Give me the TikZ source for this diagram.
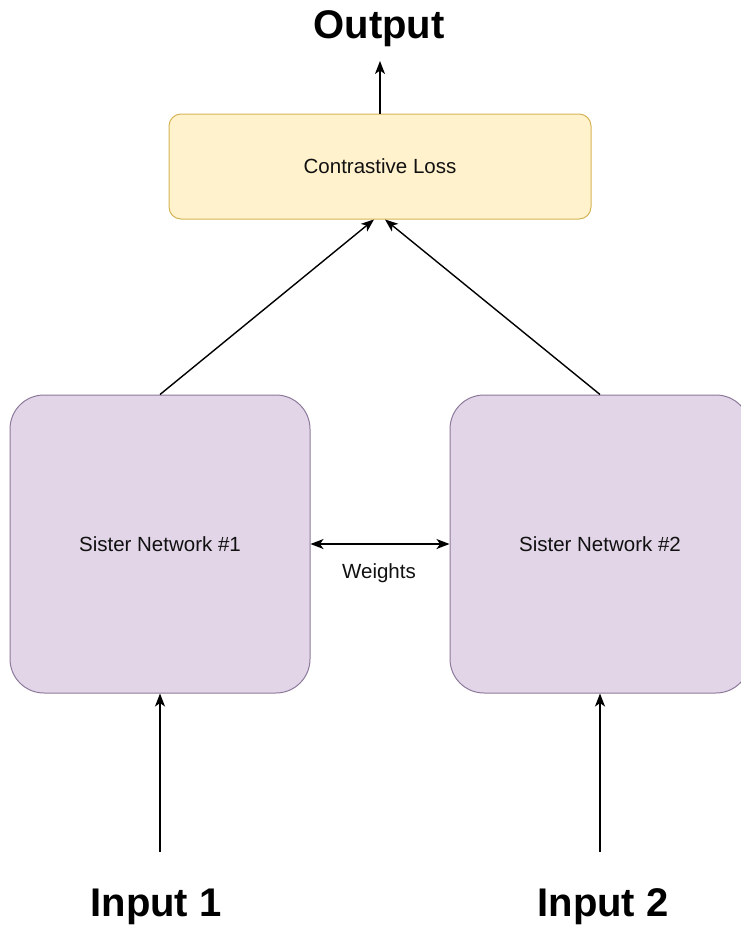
\documentclass[tikz,border=0pt]{standalone}
\usepackage{fontspec}
\setmainfont{Liberation Sans}
\usetikzlibrary{calc,arrows.meta}
\definecolor{lossfill}{HTML}{FFF2CC}
\definecolor{lossdraw}{HTML}{D6B656}
\definecolor{netfill}{HTML}{E1D5E7}
\definecolor{netdraw}{HTML}{8E7A9A}
\definecolor{txt}{HTML}{111111}
\tikzset{
  tip/.tip={Stealth[length=13pt,width=10pt,inset=3.5pt]},
  lossbox/.style={draw=lossdraw, fill=lossfill, line width=1pt, rounded corners=12pt,
    minimum width=422pt, minimum height=105pt, inner sep=0pt, text=txt,
    font=\fontsize{20.5}{24}\selectfont},
  netbox/.style={draw=netdraw, fill=netfill, line width=1pt, rounded corners=34pt,
    minimum width=300pt, minimum height=298pt, inner sep=0pt, text=txt,
    font=\fontsize{20.5}{24}\selectfont},
  bigtext/.style={anchor=base, inner sep=0pt, text=black, font=\bfseries\fontsize{40}{48}\selectfont},
  smalltext/.style={anchor=base, inner sep=0pt, text=txt, font=\fontsize{20.5}{24}\selectfont},
  arr/.style={-tip, line width=1.4pt, black},
  darr/.style={tip-tip, line width=1.4pt, black}
}
\begin{document}
\begin{tikzpicture}[x=1pt,y=-1pt]
  \path[use as bounding box] (0,0) rectangle (741,929);
  \fill[white] (0,0) rectangle (741,929);
  \clip (0,0) rectangle (741,929);
  \node[lossbox] (loss) at (380,166.5) {Contrastive Loss};
  \node[netbox] (net1) at (160,544) {Sister Network \#1};
  \node[netbox] (net2) at (600,544) {Sister Network \#2};
  \node[bigtext] (out) at (379,38) {Output};
  \node[bigtext] (in1) at (156,916) {Input 1};
  \node[bigtext] (in2) at (603,916) {Input 2};
  \node[smalltext] (w) at (379,578) {Weights};
  \coordinate (otip) at (380,61);
  \coordinate (i1) at (160,852);
  \coordinate (i2) at (600,852);
  \draw[arr] (loss.north) -- (otip);
  \draw[arr] (net1.north) -- ($(loss.south)+(-6,0)$);
  \draw[arr] (net2.north) -- ($(loss.south)+(5,0)$);
  \draw[darr] (net1.east) -- (net2.west);
  \draw[arr] (i1) -- (net1.south);
  \draw[arr] (i2) -- (net2.south);
\end{tikzpicture}
\end{document}
